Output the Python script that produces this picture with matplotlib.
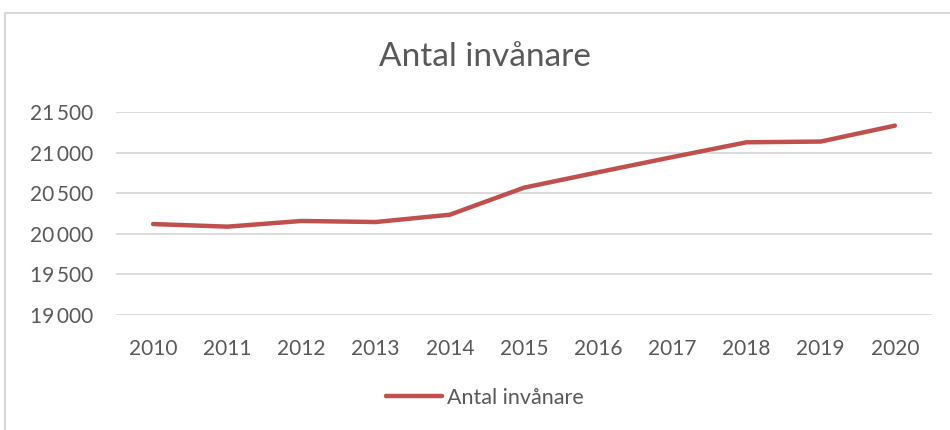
import matplotlib
matplotlib.use("Agg")
import matplotlib.pyplot as plt
from matplotlib.patches import Rectangle
from matplotlib.ticker import FuncFormatter

years = ["2010", "2011", "2012", "2013", "2014", "2015", "2016", "2017", "2018", "2019", "2020"]
population = [20120, 20088, 20158, 20145, 20235, 20568, 20758, 20945, 21127, 21136, 21332]
y_ticks = [19000, 19500, 20000, 20500, 21000, 21500]

plt.rcParams['font.family'] = ['Lato', 'DejaVu Sans']

fig = plt.figure(figsize=(9.5, 4.3), dpi=100)
ax = fig.add_axes([116/950, 1 - 315/430, (932 - 116)/950, (315 - 112)/430])

# outer chart border
fig.patches.append(Rectangle((5/950, -0.1), 1.2, (430 - 13)/430 + 0.1,
                             transform=fig.transFigure, fill=False,
                             edgecolor="#D0D0D0", linewidth=1.2))

x = list(range(len(years)))
line, = ax.plot(x, population, color="#C0504D", linewidth=3.2,
                solid_capstyle="round", solid_joinstyle="round", label="Antal invånare")

ax.set_xlim(-0.5, len(years) - 0.5)
ax.set_ylim(19000, 21500)
ax.set_yticks(y_ticks)
ax.yaxis.set_major_formatter(FuncFormatter(lambda v, p: f"{v:,.0f}".replace(",", "\u2009")))
ax.set_xticks(x)
ax.set_xticklabels(years)
ax.grid(axis="y", color="#D9D9D9", linewidth=1.3)
ax.set_axisbelow(True)
for s in ax.spines.values():
    s.set_visible(False)
ax.tick_params(axis="both", length=0, colors="#595959", labelsize=15)
ax.tick_params(axis="x", pad=17)
ax.tick_params(axis="y", pad=16.5)
for lbl in ax.get_yticklabels() + ax.get_xticklabels():
    lbl.set_color("#595959")

fig.text(485/950, 1 - 57/430, "Antal invånare", ha="center", va="center",
         fontsize=24, color="#595959")

leg = fig.legend(handles=[line], loc="center", bbox_to_anchor=(485/950, 1 - 398/430),
                 frameon=False, fontsize=15.5, handlelength=2.6, handletextpad=0.2)
for t in leg.get_texts():
    t.set_color("#595959")

fig.savefig("out.png", dpi=100)
